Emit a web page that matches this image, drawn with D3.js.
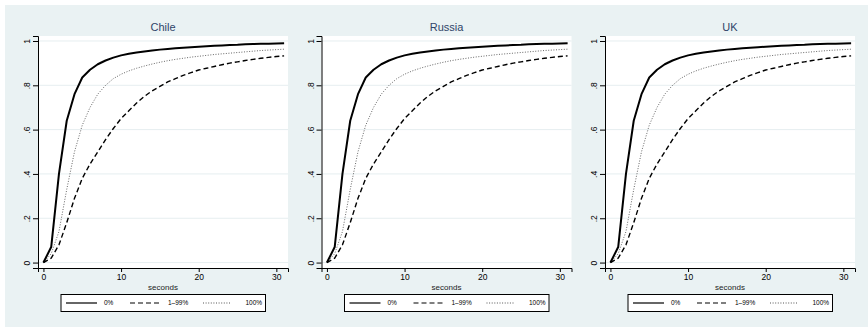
<!DOCTYPE html>
<html><head><meta charset="utf-8">
<script src="https://cdn.jsdelivr.net/npm/d3@7"></script>
<style>body{margin:0;background:#fff}svg{display:block}text{font-family:"Liberation Sans",Arial,sans-serif}</style>
</head><body><div id="c"></div>
<script>
const countries = ["Chile", "Russia", "UK"];
const seconds = d3.range(0, 32);
const xTicks = [0, 10, 20, 30];
const yTicks = [0, 0.2, 0.4, 0.6, 0.8, 1];
const yTickLabels = ["0", ".2", ".4", ".6", ".8", "1"];
const seriesNames = ["0%", "1\u201399%", "100%"];
const zeroPct = [0,0.07,0.40,0.64,0.76,0.835,0.87,0.895,0.912,0.925,0.935,0.942,0.948,0.953,0.957,0.961,0.964,0.967,0.970,0.972,0.974,0.976,0.978,0.980,0.982,0.983,0.985,0.986,0.987,0.988,0.989,0.990];
const midPct = [0,0.02,0.08,0.18,0.29,0.38,0.445,0.50,0.555,0.605,0.65,0.685,0.72,0.75,0.775,0.795,0.815,0.83,0.845,0.857,0.869,0.877,0.885,0.893,0.90,0.906,0.912,0.917,0.922,0.926,0.93,0.933];
const fullPct = [0,0.04,0.14,0.33,0.50,0.62,0.70,0.76,0.80,0.83,0.85,0.865,0.877,0.887,0.896,0.904,0.911,0.917,0.922,0.927,0.931,0.935,0.939,0.942,0.945,0.948,0.951,0.954,0.957,0.959,0.961,0.963];
const panelSeries = {Chile:[zeroPct, midPct, fullPct], Russia:[zeroPct, midPct, fullPct], UK:[zeroPct, midPct, fullPct]};

const W = 868, H = 327;
const svg = d3.select("#c").append("svg").attr("width", W).attr("height", H);
svg.append("rect").attr("x",5).attr("y",5).attr("width",W-5).attr("height",H-5).attr("fill","#eaf2f3");

const styles = [
  {stroke:"#000", width:2, dash:null},
  {stroke:"#000", width:1.4, dash:"5,3"},
  {stroke:"#555", width:0.9, dash:"1,1.6"}
];
const panelW = 250, plotTop = 36, plotBottom = 268, step = 283.5, left0 = 38;

countries.forEach((name, i) => {
  const L = left0 + i*step, R = L + panelW;
  const x = d3.scaleLinear().domain([-0.7, 31.5]).range([L, R]);
  const y = d3.scaleLinear().domain([-0.0245, 1.0225]).range([plotBottom, plotTop]);
  const g = svg.append("g");
  g.append("rect").attr("x",L).attr("y",plotTop).attr("width",panelW).attr("height",plotBottom-plotTop).attr("fill","#fff");
  g.selectAll("line.grid").data(yTicks).join("line").attr("class","grid")
    .attr("x1",L).attr("x2",R).attr("y1",d=>y(d)).attr("y2",d=>y(d))
    .attr("stroke","#e6eef0").attr("stroke-width",1);
  // axes
  const ya = g.append("g").attr("transform",`translate(${L},0)`)
    .call(d3.axisLeft(y).tickValues(yTicks).tickFormat((d,k)=>yTickLabels[k]).tickSize(5).tickPadding(3));
  ya.select(".domain").attr("stroke","#000");
  ya.selectAll(".tick line").attr("stroke","#000");
  ya.selectAll(".tick text").attr("font-size",8.5).attr("fill","#000")
    .attr("text-anchor","middle").attr("dy",0).attr("x",null)
    .attr("transform","translate(-10,0) rotate(-90)").attr("dominant-baseline","middle");
  const xa = g.append("g").attr("transform",`translate(0,${plotBottom})`)
    .call(d3.axisBottom(x).tickValues(xTicks).tickSize(4).tickPadding(2));
  xa.select(".domain").attr("stroke","#000");
  xa.selectAll(".tick line").attr("stroke","#000");
  xa.selectAll(".tick text").attr("font-size",8.5).attr("fill","#000");
  g.append("text").attr("x",(L+R)/2).attr("y",290).attr("text-anchor","middle")
    .attr("font-size",8).attr("fill","#222").text("seconds");
  g.append("text").attr("x",(L+R)/2).attr("y",31).attr("text-anchor","middle")
    .attr("font-size",11).attr("fill","#2f4468").text(name);
  const line = d3.line().x((d,k)=>x(seconds[k])).y(d=>y(d));
  const order = [2,1,0];
  order.forEach(s => {
    g.append("path").datum(panelSeries[name][s]).attr("d",line).attr("fill","none")
      .attr("stroke",styles[s].stroke).attr("stroke-width",styles[s].width)
      .attr("stroke-dasharray",styles[s].dash).attr("stroke-linejoin","round");
  });
  // legend
  const lx = L + 23, ly = 294.5, lw = 204.5, lh = 17;
  g.append("rect").attr("x",lx).attr("y",ly).attr("width",lw).attr("height",lh)
    .attr("fill","#fff").attr("stroke","#000").attr("stroke-width",1);
  const items = [{x0:5,x1:36,tx:43},{x0:69,x1:100,tx:107},{x0:142,x1:169,tx:184.5}];
  items.forEach((it,k)=>{
    g.append("line").attr("x1",lx+it.x0).attr("x2",lx+it.x1).attr("y1",ly+lh/2).attr("y2",ly+lh/2)
      .attr("stroke",styles[k].stroke).attr("stroke-width",k===0?1.2:1.2).attr("stroke-dasharray",styles[k].dash);
    g.append("text").attr("x",lx+it.tx).attr("y",ly+lh/2).attr("dominant-baseline","middle")
      .attr("font-size",6.5).attr("fill","#000").text(seriesNames[k]);
  });
});
</script></body></html>
